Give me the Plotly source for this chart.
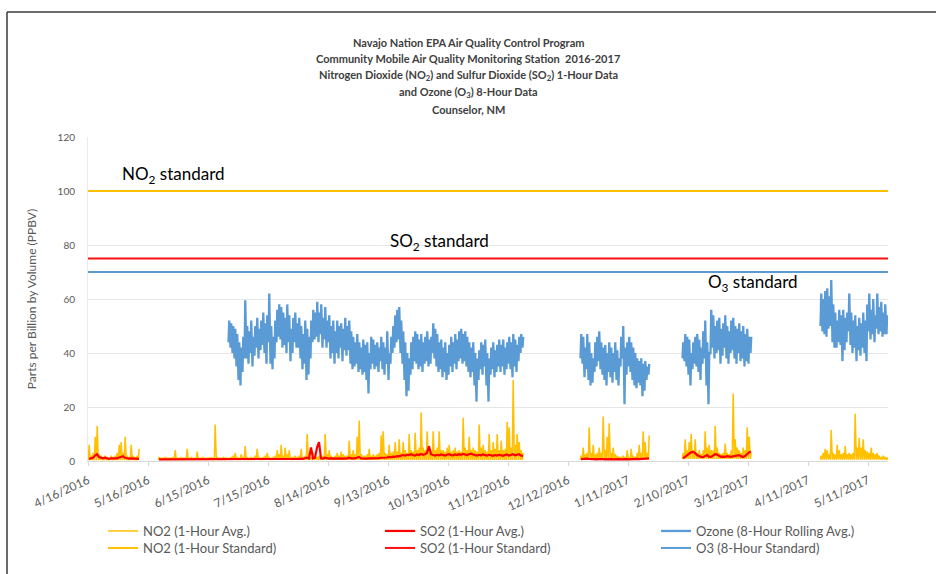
import datetime as dt
import plotly.graph_objects as go

# ---------------- data ----------------
TICK_DATES = ["2016-04-16", "2016-05-16", "2016-06-15", "2016-07-15", "2016-08-14",
              "2016-09-13", "2016-10-13", "2016-11-12", "2016-12-12", "2017-01-11",
              "2017-02-10", "2017-03-12", "2017-04-11", "2017-05-11"]
TICK_LABELS = ["4/16/2016", "5/16/2016", "6/15/2016", "7/15/2016", "8/14/2016",
               "9/13/2016", "10/13/2016", "11/12/2016", "12/12/2016", "1/11/2017",
               "2/10/2017", "3/12/2017", "4/11/2017", "5/11/2017"]
X_RANGE = ["2016-04-16", "2017-05-21"]

# Ozone 8-hour rolling average: daily high / low per monitoring segment
O3_STARTS = ["2016-06-25", "2016-12-18", "2017-02-07", "2017-04-17"]
O3_HIGH = [
    [52, 51, 50, 49, 47, 44, 42, 46, 59.5, 50, 48, 52, 46, 50, 53, 49, 52, 55, 51, 54,
     62, 50, 46, 52, 56, 58, 57, 55, 53, 58, 54, 49, 53, 55, 51, 53, 50, 47, 52, 49,
     46, 52, 56, 55, 59, 55, 58, 53, 57, 52, 54, 50, 52, 48, 52, 50, 51, 49, 53, 50,
     52, 48, 46, 44, 47, 44, 42, 45, 43, 44, 40, 46, 45, 43, 44, 42, 46, 44, 42, 48,
     40, 46, 50, 54, 56, 57, 52, 48, 44, 40, 38, 44, 46, 48, 47, 45, 47, 44, 46, 48,
     45, 46, 51, 49, 47, 44, 45, 42, 44, 40, 43, 46, 44, 47, 45, 48, 49, 47, 48, 46,
     44, 42, 44, 40, 38, 41, 44, 43, 45, 40, 38, 42, 44, 41, 43, 45, 43, 45, 42, 44,
     46, 44, 47, 45, 43, 46, 47, 46],
    [47, 46, 42, 47, 44, 40, 38, 44, 46, 48, 44, 42, 43, 40, 44, 42, 40, 44, 41, 38,
     46, 50, 42, 44, 46, 44, 42, 40, 38, 37, 38, 36, 37, 35, 36],
    [44, 47, 46, 45, 40, 44, 46, 47, 45, 42, 48, 52, 44, 40, 56, 54, 50, 52, 53, 49,
     51, 54, 50, 48, 52, 53, 50, 49, 51, 48, 50, 47, 49, 46, 46],
    [62, 60, 63, 64, 61, 67, 58, 55, 52, 56, 54, 56, 53, 55, 62, 55, 52, 54, 50, 53,
     51, 55, 52, 58, 62, 56, 60, 54, 62, 57, 59, 55, 58, 54, 55],
]
O3_LOW = [
    [44, 42, 40, 38, 35, 30, 28, 33, 38, 38, 36, 40, 35, 39, 42, 38, 41, 43, 40, 36,
     44, 36, 34, 38, 44, 46, 45, 42, 43, 40, 44, 37, 40, 44, 42, 42, 38, 34, 36, 30,
     32, 38, 44, 45, 46, 44, 47, 42, 45, 42, 44, 38, 40, 36, 40, 38, 42, 37, 41, 39,
     41, 36, 34, 35, 36, 33, 34, 32, 33, 30, 25, 34, 36, 34, 35, 33, 37, 34, 32, 36,
     30, 36, 40, 42, 44, 45, 40, 36, 30, 24, 26, 32, 34, 37, 36, 34, 35, 33, 36, 37,
     35, 36, 40, 38, 35, 33, 34, 31, 33, 30, 32, 35, 33, 36, 34, 37, 38, 36, 37, 35,
     33, 31, 33, 28, 22, 30, 34, 32, 35, 28, 22, 32, 34, 31, 33, 35, 33, 35, 32, 34,
     36, 34, 31, 35, 33, 37, 40, 42],
    [38, 36, 31, 34, 30, 28, 29, 33, 35, 37, 34, 32, 30, 28, 33, 31, 29, 33, 30, 28,
     35, 38, 21, 32, 35, 33, 30, 28, 27, 29, 28, 24, 26, 30, 32],
    [38, 37, 35, 32, 28, 34, 36, 35, 33, 30, 36, 38, 28, 21, 40, 42, 38, 40, 41, 36,
     39, 42, 38, 36, 40, 41, 38, 36, 40, 37, 38, 35, 37, 36, 40],
    [50, 48, 47, 46, 49, 50, 44, 42, 42, 44, 43, 37, 41, 44, 48, 43, 40, 42, 37, 41,
     39, 42, 40, 37, 48, 45, 47, 44, 49, 47, 48, 46, 47, 47, 50],
]

# NO2 1-hour: daily peak per segment, with the overnight low of each segment
NO2_STARTS = ["2016-04-16", "2016-05-21", "2016-12-18", "2017-02-07", "2017-04-17"]
NO2_LOW = [0.3, 0.4, 0.5, 0.8, 0.5]
NO2_PEAK = [
    [6, 2, 3, 9, 13, 2.5, 2, 1.5, 2, 1.5, 1, 2, 1.5, 2, 3, 6, 7, 3, 9, 2,
     1.5, 6, 2, 1.5, 2, 4.5],
    [1.5, 1, 1.2, 1.5, 1, 1.3, 1, 1.5, 4, 1.2,
     1, 1.5, 1.2, 1, 4.5, 1.2, 1.5, 1, 1.3, 3.5,
     1.2, 1, 1.5, 1.2, 1, 1.3, 1.5, 1.2, 13.5, 1.5,
     1.2, 1, 1.5, 1.3, 1, 1.2, 1.5, 2, 3, 1.5,
     1.2, 2.5, 1.5, 5.5, 1.5, 1.2, 1.5, 1.3, 2, 4.5,
     1.5, 1.2, 1.5, 2, 3, 1.5, 1.2, 1.5, 2, 4,
     2.5, 6, 2, 5, 2.5, 4, 1.5, 1.5, 2, 1.5,
     2, 4.5, 1.5, 2, 10, 2, 1.5, 3, 2, 1.5,
     2, 1.5, 2, 10, 2.5, 4, 2, 1.5, 2, 3,
     2, 3.5, 2.5, 2, 2, 7.5, 2.5, 4, 2.5, 9,
     15, 2.5, 2, 2, 2.5, 4.5, 2, 2.5, 2, 2.5,
     3, 9.5, 11, 3, 2.5, 6, 3, 3.5, 7, 3.5,
     8, 3, 7, 4, 3, 10, 4, 3.5, 10.5, 4,
     5, 18, 5, 4, 11, 5, 3.5, 11, 4, 5,
     11, 4, 4, 3.5, 5, 6, 3.5, 4, 5, 3.5,
     4, 3.5, 16, 5, 4, 9, 4, 5, 4, 3.5,
     13.5, 5, 6, 4, 3.5, 10, 4, 7, 4.5, 10,
     4, 7.5, 4, 4.5, 14.5, 12.5, 5, 30, 6, 10,
     7, 4, 3],
    [2, 5, 2.5, 3, 12.5, 3, 6, 2.5, 3, 5,
     3, 16.5, 4, 9, 14, 3, 5, 2.5, 2, 1.5,
     1.5, 2, 1.5, 4, 1.5, 4.5, 2, 1.5, 3, 6,
     3, 11, 7, 3, 9.5],
    [3, 8, 4, 7, 10, 4, 8, 3, 4, 2.5,
     4, 11, 5, 6, 4, 4, 13, 5, 3, 2.5,
     3, 6.5, 3, 2.5, 4, 25, 8, 5, 4, 3,
     5, 4, 12.5, 9, 3],
    [2, 3, 4.5, 4, 2.5, 11.5, 3, 2.5, 6, 4,
     2.5, 3, 5.5, 2.5, 3, 2.5, 3, 17.5, 5, 8.5,
     5, 8, 4, 3.5, 3, 5, 3, 2.5, 3, 2,
     1.5, 2, 1.5, 1.2, 1],
]

# SO2 1-hour: daily level per segment
SO2_STARTS = ["2016-04-16", "2016-05-21", "2016-12-18", "2017-02-07"]
SO2_VAL = [
    [0.8, 1, 1.2, 2, 2.5, 1.5, 1.2, 1, 1.2, 1, 0.8, 1, 0.9, 1, 1, 1.2, 1.5, 1.8, 1.2, 1,
     0.9, 1, 0.9, 1, 0.9, 0.8],
    [0.6, 0.6, 0.7, 0.6, 0.6, 0.7, 0.6, 0.6, 0.7, 0.6,
     0.6, 0.7, 0.6, 0.6, 0.7, 0.6, 0.6, 0.6, 0.7, 0.6,
     0.6, 0.6, 0.7, 0.6, 0.6, 0.6, 0.7, 0.6, 0.8, 0.6,
     0.6, 0.6, 0.7, 0.6, 0.6, 0.7, 0.6, 0.6, 0.7, 0.6,
     0.6, 0.7, 0.6, 0.8, 0.6, 0.6, 0.7, 0.6, 0.6, 0.7,
     0.6, 0.7, 0.6, 0.6, 0.7, 0.6, 0.6, 0.7, 0.6, 0.8,
     0.7, 0.8, 0.7, 0.8, 0.7, 0.8, 0.7, 0.7, 0.8, 0.7,
     0.8, 0.9, 0.8, 1, 1.2, 0.9, 5, 1, 1.2, 5,
     7, 1, 0.9, 1.2, 1, 0.9, 1, 0.9, 1, 0.9,
     1, 0.9, 1, 0.9, 1, 1.2, 1, 0.9, 1, 1.2,
     1.5, 1, 0.9, 1, 0.9, 1, 1, 0.9, 1, 1,
     1.1, 1.2, 1.1, 1.2, 1.3, 1.5, 1.4, 1.6, 1.5, 1.8,
     1.7, 2, 2.2, 2, 2.3, 2.2, 2.5, 2.2, 2, 2.4,
     2.2, 2.6, 2.3, 2.5, 3, 5.5, 2.5, 2.2, 2, 2.3,
     2.1, 2.4, 2.2, 2, 2.3, 2.5, 2.2, 2.1, 2.4, 2.2,
     2.5, 2.3, 2.6, 2.4, 2.2, 2.5, 2.7, 2.4, 2.2, 2,
     2.3, 2.1, 2.4, 2.2, 2, 2.3, 2.1, 1.9, 2.2, 2,
     2.3, 2.1, 1.9, 2.2, 2.4, 2, 2.2, 2.5, 2.1, 2.3,
     2.5, 2, 1.8],
    [0.7, 0.8, 0.7, 0.9, 0.8, 0.7, 0.8, 0.7, 0.6, 0.7,
     0.8, 0.7, 0.6, 0.7, 0.8, 0.7, 0.6, 0.7, 0.8, 0.7,
     0.6, 0.7, 0.8, 0.7, 0.6, 0.7, 0.8, 0.9, 0.8, 0.7,
     0.8, 0.9, 0.8, 0.9, 1.0],
    [1, 1.5, 2, 2.8, 3.2, 3.4, 3, 2.2, 1.8, 1.5,
     1.4, 1.8, 2.2, 1.6, 1.5, 2, 2.5, 2.4, 1.8, 1.5,
     1.6, 1.5, 1.8, 1.6, 1.5, 1.7, 1.8, 2, 2.2, 1.8,
     1.5, 1.8, 2.5, 3.2, 3.5],
]

NO2_STD = 100
SO2_STD = 75
O3_STD = 70

# ---------------- build series ----------------
def day0(s):
    return dt.datetime.strptime(s, "%Y-%m-%d")

def two_per_day(starts, first, second, h1, h2):
    xs, ys = [], []
    for s, a, b in zip(starts, first, second):
        d = day0(s)
        for i in range(len(b)):
            lo = a[i] if isinstance(a, list) else a
            xs += [d + dt.timedelta(days=i, hours=h1), d + dt.timedelta(days=i, hours=h2)]
            ys += [lo, b[i]]
        xs.append(None)
        ys.append(None)
    return xs, ys

o3_x, o3_y = two_per_day(O3_STARTS, O3_LOW, O3_HIGH, 6, 15)
no2_x, no2_y = two_per_day(NO2_STARTS, NO2_LOW, NO2_PEAK, 4, 14)

so2_x, so2_y = [], []
for s, vals in zip(SO2_STARTS, SO2_VAL):
    d = day0(s)
    for i, v in enumerate(vals):
        so2_x.append(d + dt.timedelta(days=i, hours=12))
        so2_y.append(v)
    so2_x.append(None)
    so2_y.append(None)

C_NO2 = "#FFC000"
C_SO2 = "#FF0000"
C_O3 = "#5B9BD5"
FONT = "Lato, 'Open Sans', sans-serif"
GREY = "#595959"

fig = go.Figure()
fig.add_trace(go.Scatter(x=no2_x, y=no2_y, mode="lines", name="NO2 (1-Hour Avg.)",
                         line=dict(color=C_NO2, width=1.5), legend="legend", showlegend=True))
fig.add_trace(go.Scatter(x=so2_x, y=so2_y, mode="lines", name="SO2 (1-Hour Avg.)",
                         line=dict(color=C_SO2, width=2.2), legend="legend2"))
fig.add_trace(go.Scatter(x=o3_x, y=o3_y, mode="lines", name="Ozone (8-Hour Rolling Avg.)",
                         line=dict(color=C_O3, width=2.3), legend="legend3"))
fig.add_trace(go.Scatter(x=X_RANGE, y=[NO2_STD, NO2_STD], mode="lines",
                         name="NO2 (1-Hour Standard)",
                         line=dict(color="#FFC000", width=2), legend="legend4"))
fig.add_trace(go.Scatter(x=X_RANGE, y=[SO2_STD, SO2_STD], mode="lines",
                         name="SO2 (1-Hour Standard)",
                         line=dict(color="#FF1010", width=2), legend="legend5"))
fig.add_trace(go.Scatter(x=X_RANGE, y=[O3_STD, O3_STD], mode="lines",
                         name="O3 (8-Hour Standard)",
                         line=dict(color="#5B9BD5", width=2), legend="legend6"))

# pixel helpers for paper coords (plot area: x 88..888, y 137..461)
L, R, T, B = 88, 48, 137, 113
W, H = 936, 574
def px(x):
    return (x - L) / (W - L - R)
def py(y):
    return (H - B - y) / (H - T - B)

title_lines = [
    "Navajo Nation EPA Air Quality Control Program",
    "Community Mobile Air Quality Monitoring Station  2016-2017",
    "Nitrogen Dioxide (NO<sub>2</sub>) and Sulfur Dioxide (SO<sub>2</sub>) 1-Hour Data",
    "and Ozone (O<sub>3</sub>) 8-Hour Data",
    "Counselor, NM",
]
title_y = [42, 58, 75, 92, 109]
anns = []
for t, yy in zip(title_lines, title_y):
    anns.append(dict(text="<b>" + t + "</b>", x=px(468), y=py(yy), xref="paper", yref="paper",
                     showarrow=False, xanchor="center", yanchor="middle",
                     font=dict(family=FONT, size=11, color="#404040")))

labels = [("NO<sub>2</sub> standard", "2016-05-02", 106),
          ("SO<sub>2</sub> standard", "2016-09-13", 81),
          ("O<sub>3</sub> standard", "2017-02-19", 66)]
for t, xx, yy in labels:
    anns.append(dict(text=t, x=xx, y=yy, xref="x", yref="y", showarrow=False,
                     xanchor="left", yanchor="middle",
                     font=dict(family=FONT, size=17, color="#000000")))

def leg(xpix, ytop):
    return dict(orientation="v", x=px(xpix), y=py(ytop), xanchor="left", yanchor="top",
                itemwidth=30, font=dict(family=FONT, size=13, color=GREY),
                bgcolor="rgba(0,0,0,0)", tracegroupgap=0, visible=True)

fig.update_layout(
    width=W, height=H,
    showlegend=True,
    margin=dict(l=L, r=R, t=T, b=B, autoexpand=False),
    paper_bgcolor="white", plot_bgcolor="white",
    font=dict(family=FONT, color=GREY),
    annotations=anns,
    shapes=[
        dict(type="line", xref="paper", yref="paper", x0=px(7), x1=px(940), y0=py(12), y1=py(12),
             line=dict(color="#3A3A3A", width=1.5)),
        dict(type="line", xref="paper", yref="paper", x0=px(7), x1=px(7), y0=py(12), y1=py(580),
             line=dict(color="#3A3A3A", width=1.5)),
    ],
    xaxis=dict(type="date", range=X_RANGE, tickmode="array", tickvals=TICK_DATES,
               ticktext=TICK_LABELS, tickangle=-25, showgrid=False, showline=True,
               linecolor="#D9D9D9", linewidth=1, ticks="outside", ticklen=7,
               tickcolor="rgba(0,0,0,0)", tickfont=dict(family=FONT, size=12, color=GREY),
               minor=dict(tickmode="array", tickvals=TICK_DATES, ticks="outside",
                          ticklen=4, tickcolor="#D9D9D9", showgrid=False),
               zeroline=False, automargin=False),
    yaxis=dict(range=[0, 120], dtick=20, showgrid=True, gridcolor="#E6E6E6",
               zeroline=False, showline=True, linecolor="#EBEBEB",
               tickfont=dict(family=FONT, size=10, color=GREY),
               ticks="outside", ticklen=10, tickcolor="rgba(0,0,0,0)", automargin=False,
               title=dict(text="Parts per Billion by Volume (PPBV)", standoff=18,
                          font=dict(family=FONT, size=12, color=GREY))),
    legend=leg(103, 516),
    legend2=leg(380, 516),
    legend3=leg(656, 516),
    legend4=leg(103, 533),
    legend5=leg(380, 533),
    legend6=leg(656, 533),
)

fig.write_html("out.html", config={"displayModeBar": False},
               post_script="document.body.style.margin='0px';")
